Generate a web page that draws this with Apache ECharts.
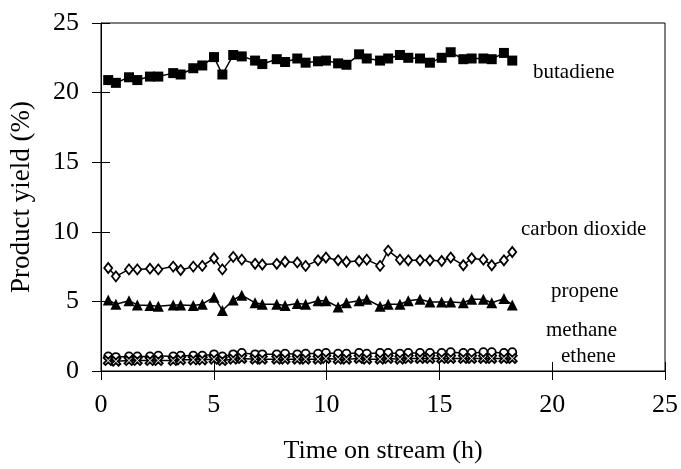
<!DOCTYPE html>
<html>
<head>
<meta charset="utf-8">
<script src="https://cdn.jsdelivr.net/npm/echarts@6/dist/echarts.min.js"></script>
<style>
html, body { margin: 0; padding: 0; background: #fff; }
#main { width: 681px; height: 469px; }
</style>
</head>
<body>
<div id="main"></div>
<script>
// time on stream (h)
var hours = [0.32, 0.66, 1.24, 1.61, 2.17, 2.54, 3.2, 3.53, 4.09, 4.49,
	5.01, 5.38, 5.86, 6.24, 6.83, 7.15, 7.79, 8.16, 8.7, 9.07,
	9.62, 9.97, 10.51, 10.88, 11.44, 11.78, 12.37, 12.73, 13.25, 13.62,
	14.14, 14.58, 15.1, 15.5, 16.06, 16.43, 16.95, 17.32, 17.86, 18.23];

// product yields (%)
var butadiene = [20.9, 20.7, 21.1, 20.9, 21.15, 21.15, 21.4, 21.3, 21.75, 21.95,
	22.55, 21.3, 22.7, 22.6, 22.3, 22.05, 22.4, 22.2, 22.45, 22.15,
	22.25, 22.3, 22.1, 22.0, 22.75, 22.45, 22.3, 22.45, 22.7, 22.5,
	22.45, 22.15, 22.5, 22.9, 22.4, 22.45, 22.45, 22.4, 22.85, 22.3];
var carbonDioxide = [7.4, 6.8, 7.3, 7.3, 7.35, 7.3, 7.5, 7.25, 7.5, 7.55,
	8.1, 7.3, 8.2, 8.0, 7.7, 7.65, 7.7, 7.85, 7.8, 7.55,
	7.95, 8.15, 7.95, 7.85, 7.9, 8.0, 7.55, 8.65, 8.0, 7.95,
	7.95, 7.95, 7.9, 8.15, 7.6, 8.1, 8.0, 7.6, 7.95, 8.55];
var propene = [5.1, 4.8, 5.05, 4.75, 4.7, 4.65, 4.75, 4.75, 4.7, 4.8,
	5.3, 4.35, 5.1, 5.45, 4.9, 4.8, 4.8, 4.7, 4.85, 4.8,
	5.05, 5.05, 4.6, 4.9, 5.05, 5.15, 4.65, 4.8, 4.8, 5.05,
	5.15, 4.95, 4.95, 4.95, 4.9, 5.15, 5.15, 4.9, 5.2, 4.75];
var methane = [1.05, 1.0, 1.05, 1.05, 1.05, 1.1, 1.05, 1.1, 1.1, 1.1,
	1.2, 1.05, 1.2, 1.3, 1.2, 1.2, 1.2, 1.25, 1.2, 1.25,
	1.25, 1.3, 1.25, 1.25, 1.3, 1.25, 1.3, 1.3, 1.25, 1.3,
	1.3, 1.3, 1.3, 1.35, 1.3, 1.3, 1.35, 1.35, 1.3, 1.35];
var ethene = [0.75, 0.7, 0.75, 0.75, 0.75, 0.75, 0.75, 0.8, 0.8, 0.8,
	0.85, 0.75, 0.85, 0.9, 0.85, 0.85, 0.85, 0.85, 0.85, 0.85,
	0.85, 0.9, 0.85, 0.85, 0.9, 0.85, 0.85, 0.9, 0.85, 0.9,
	0.9, 0.9, 0.9, 0.9, 0.9, 0.9, 0.9, 0.9, 0.9, 0.9];

var xTicks = [0, 5, 10, 15, 20, 25];
var yTicks = [0, 5, 10, 15, 20, 25];

var font = "'Liberation Serif', 'DejaVu Serif', serif";

function pairs(ys) {
	var out = [];
	for (var i = 0; i < hours.length; i++) {
		out.push([hours[i], ys[i]]);
	}
	return out;
}

function makeSeries(name, ys, symbol, size, filled) {
	return {
		name: name,
		type: 'line',
		data: pairs(ys),
		symbol: symbol,
		symbolSize: size,
		showAllSymbol: true,
		lineStyle: { color: '#000', width: 1.5 },
		itemStyle: {
			color: filled ? '#000' : '#fff',
			borderColor: '#000',
			borderWidth: filled ? 0 : 1.8
		},
		emphasis: { disabled: true },
		animation: false
	};
}

var xMax = xTicks[xTicks.length - 1];
var yMax = yTicks[yTicks.length - 1];

var myChart = echarts.init(document.getElementById('main'));

var option = {
	backgroundColor: '#fff',
	grid: {
		left: 100, right: 16, top: 23, bottom: 93,
		show: true, borderColor: '#000', borderWidth: 1
	},
	xAxis: [
		{
			type: 'value', min: 0, max: xMax, interval: 5,
			name: 'Time on stream (h)', nameLocation: 'middle', nameGap: 67,
			nameTextStyle: { fontFamily: font, fontSize: 26, color: '#000' },
			axisLine: { show: true, lineStyle: { color: '#000', width: 1 } },
			axisTick: { show: true, length: 9, lineStyle: { color: '#000' } },
			axisLabel: { fontFamily: font, fontSize: 26, color: '#000', margin: 21 },
			splitLine: { show: false }
		},
		{
			type: 'value', min: 0, max: xMax, interval: 5, position: 'bottom',
			axisLine: { show: false },
			axisTick: { show: true, inside: true, length: 9, lineStyle: { color: '#000' } },
			axisLabel: { show: false },
			splitLine: { show: false }
		}
	],
	yAxis: [
		{
			type: 'value', min: 0, max: yMax, interval: 5,
			name: 'Product yield (%)', nameLocation: 'middle', nameGap: 66,
			nameTextStyle: { fontFamily: font, fontSize: 27, color: '#000' },
			axisLine: { show: true, lineStyle: { color: '#000', width: 1 } },
			axisTick: { show: true, length: 9, lineStyle: { color: '#000' } },
			axisLabel: { fontFamily: font, fontSize: 26, color: '#000', margin: 22 },
			splitLine: { show: false }
		},
		{
			type: 'value', min: 0, max: yMax, interval: 5, position: 'left',
			axisLine: { show: false },
			axisTick: { show: true, inside: true, length: 9, lineStyle: { color: '#000' } },
			axisLabel: { show: false },
			splitLine: { show: false }
		}
	],
	// series labels on the right of the plot
	graphic: [
		{ type: 'text', left: 533, top: 62, style: { text: 'butadiene', font: '21px ' + font, fill: '#000' } },
		{ type: 'text', left: 521, top: 219, style: { text: 'carbon dioxide', font: '21px ' + font, fill: '#000' } },
		{ type: 'text', left: 551, top: 281, style: { text: 'propene', font: '21px ' + font, fill: '#000' } },
		{ type: 'text', left: 546, top: 320, style: { text: 'methane', font: '21px ' + font, fill: '#000' } },
		{ type: 'text', left: 561, top: 346, style: { text: 'ethene', font: '21px ' + font, fill: '#000' } }
	],
	series: [
		makeSeries('butadiene', butadiene, 'rect', 10, true),
		makeSeries('carbon dioxide', carbonDioxide, 'diamond', [8, 10], false),
		makeSeries('propene', propene, 'triangle', 11, true),
		makeSeries('methane', methane, 'circle', 8, false),
		makeSeries('ethene', ethene, 'path://M0,2L2,0L5,3L8,0L10,2L7,5L10,8L8,10L5,7L2,10L0,8L3,5Z', 9, false)
	]
};

myChart.setOption(option);
</script>
</body>
</html>
